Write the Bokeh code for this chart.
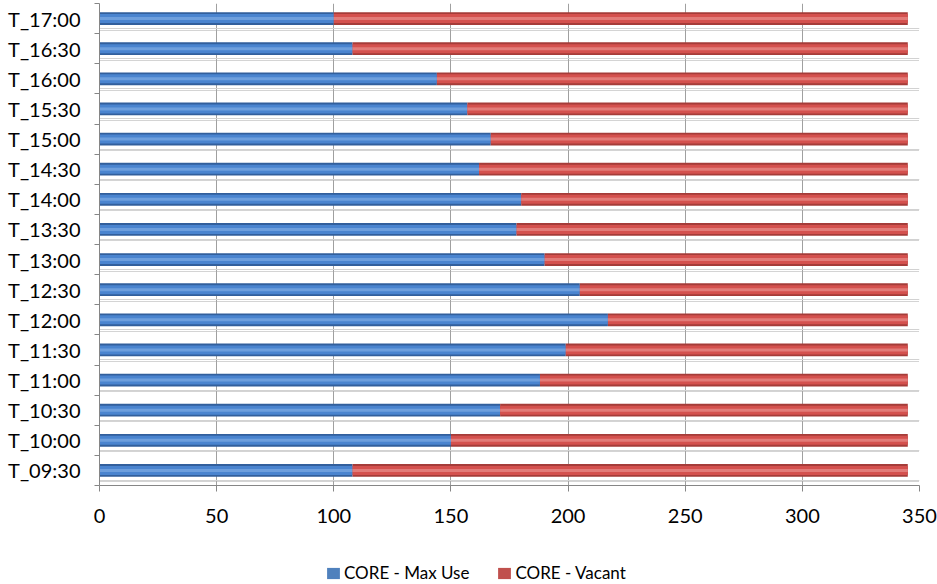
from bokeh.plotting import figure
from bokeh.layouts import column
from bokeh.models import ColumnDataSource, FixedTicker, Range1d, Legend, LegendItem
from bokeh.embed import file_html
from bokeh.resources import INLINE

# ---- data ----
times = ["T_09:30", "T_10:00", "T_10:30", "T_11:00", "T_11:30", "T_12:00",
         "T_12:30", "T_13:00", "T_13:30", "T_14:00", "T_14:30", "T_15:00",
         "T_15:30", "T_16:00", "T_16:30", "T_17:00"]
max_use = [108, 150, 171, 188, 199, 217, 205, 190, 178, 180, 162, 167, 157, 144, 108, 100]
vacant = [237, 195, 174, 157, 146, 128, 140, 155, 167, 165, 183, 178, 188, 201, 237, 245]
x_ticks = [0, 50, 100, 150, 200, 250, 300, 350]
series_names = ["CORE - Max Use", "CORE - Vacant"]

n = len(times)
ypos = list(range(n))
src = ColumnDataSource(dict(
    y=ypos,
    zero=[0] * n,
    mu=max_use,
    total=[m + v for m, v in zip(max_use, vacant)],
))

FONT = "Lato"
FS = "20px"
AXC = "#868686"

p = figure(width=937, height=550, output_backend="svg", toolbar_location=None,
           x_range=Range1d(0, 350), y_range=Range1d(-0.5, n - 0.5),
           min_border_left=99, min_border_right=18, min_border_top=3,
           min_border_bottom=65)
p.outline_line_color = None
p.background_fill_color = "white"

# cylinder-like bars: dark edge, main body, highlight
blue = ["#325F9C", "#4A84CF", "#6E9FDD"]
red = ["#A53C39", "#D4514E", "#E27C79"]
legend_blue = "#4F81BD"
legend_red = "#C0504D"
heights = [0.42, 0.30, 0.10]

for i, h in enumerate(heights):
    p.hbar(y="y", left="zero", right="mu", height=h, source=src,
           fill_color=blue[i], line_color=None)
    p.hbar(y="y", left="mu", right="total", height=h, source=src,
           fill_color=red[i], line_color=None)

# x axis
p.xaxis.ticker = FixedTicker(ticks=x_ticks)
p.xaxis.major_tick_out = 6
p.xaxis.major_tick_in = 0
p.xaxis.minor_tick_out = 0
p.xaxis.minor_tick_in = 0
p.xaxis.axis_line_color = AXC
p.xaxis.major_tick_line_color = AXC
p.xaxis.major_label_standoff = 17
p.xaxis.major_label_text_font = FONT
p.xaxis.major_label_text_font_size = FS
p.xaxis.major_label_text_color = "#000000"

# y axis (ticks at category boundaries)
boundaries = [i - 0.5 for i in range(n + 1)]
p.yaxis.ticker = FixedTicker(ticks=ypos, minor_ticks=boundaries)
p.yaxis.major_label_overrides = {i: t for i, t in enumerate(times)}
p.yaxis.major_tick_out = 0
p.yaxis.major_tick_in = 0
p.yaxis.minor_tick_out = 5
p.yaxis.minor_tick_in = 0
p.yaxis.minor_tick_line_color = AXC
p.yaxis.axis_line_color = AXC
p.yaxis.major_label_standoff = 14
p.yaxis.major_label_text_font = FONT
p.yaxis.major_label_text_font_size = FS
p.yaxis.major_label_text_color = "#000000"

# grids: vertical value grid, and 3D-like floor lines beneath each bar
p.xgrid.ticker = FixedTicker(ticks=x_ticks)
p.xgrid.grid_line_color = "#A0A0A0"
floor = [i - 0.33 for i in range(n)]
floor_dots = [i - 0.38 for i in range(n)]
p.ygrid.ticker = FixedTicker(ticks=floor, minor_ticks=floor_dots)
p.ygrid.grid_line_color = "#D2D2D2"
p.ygrid.minor_grid_line_color = "#A8A8A8"
p.ygrid.minor_grid_line_dash = "1 1"

# ---- legend strip below (its frame is aligned with the main frame) ----
lf = figure(width=937, height=34, output_backend="svg", toolbar_location=None,
            x_range=Range1d(1000, 1001), y_range=Range1d(1000, 1001),
            x_axis_location=None, y_axis_location=None, min_border=0)
lf.grid.visible = False
lf.outline_line_color = None
lb = lf.hbar(y="y", left="zero", right="mu", height=0.4, source=src,
             fill_color=legend_blue, line_color=None)
lr = lf.hbar(y="y", left="mu", right="total", height=0.4, source=src,
             fill_color=legend_red, line_color=None)
legend = Legend(items=[LegendItem(label=series_names[0], renderers=[lb]),
                       LegendItem(label=series_names[1], renderers=[lr])],
                orientation="horizontal", location=(226, 1),
                border_line_color=None, background_fill_alpha=0,
                padding=0, margin=0, spacing=27,
                glyph_width=16, glyph_height=14, label_standoff=3,
                label_height=20,
                label_text_font=FONT, label_text_font_size="17px",
                label_text_color="#000000")
lf.add_layout(legend)

open("out.html", "w").write(file_html(column(p, lf), INLINE))
